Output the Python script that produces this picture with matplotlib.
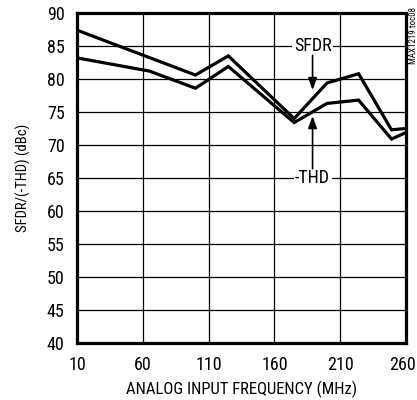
import matplotlib
matplotlib.use("Agg")
import matplotlib.pyplot as plt
from matplotlib import font_manager
from matplotlib.transforms import ScaledTranslation

names = {f.name for f in font_manager.fontManager.ttflist}
fam = 'Liberation Sans'
for cand in ['Roboto Condensed', 'Archivo Narrow', 'PT Sans Narrow', 'Liberation Sans Narrow']:
    if cand in names:
        fam = cand
        break
plt.rcParams['font.family'] = [fam, 'DejaVu Sans']
fs = 12 if fam != 'Liberation Sans' else 10.5

sfdr_freq = [10, 100, 125, 175, 200, 224, 249, 260]
sfdr_db = [87.4, 80.6, 83.5, 74.0, 79.4, 80.8, 72.3, 72.5]
thd_freq = [10, 65, 100, 125, 175, 200, 224, 249, 260]
thd_db = [83.2, 81.2, 78.6, 81.9, 73.4, 76.3, 76.8, 70.9, 71.9]
x_ticks = [10, 60, 110, 160, 210, 260]
y_ticks = [40, 45, 50, 55, 60, 65, 70, 75, 80, 85, 90]

fig = plt.figure(figsize=(4.17, 4.00), dpi=100)
ax = fig.add_axes([77/417, 1 - 343/400, 329/417, 330/400])
ax.plot(sfdr_freq, sfdr_db, color='black', lw=2.3, solid_joinstyle='miter', zorder=3)
ax.plot(thd_freq, thd_db, color='black', lw=2.3, solid_joinstyle='miter', zorder=3)
ax.set_xlim(10, 260)
ax.set_ylim(40, 90)
ax.set_xticks(x_ticks)
ax.set_yticks(y_ticks)
ax.grid(True, color='black', lw=0.9)
ax.tick_params(length=0, labelsize=fs + 1, pad=9)
for s in ax.spines.values():
    s.set_linewidth(2.3)
ax.set_xlabel('ANALOG INPUT FREQUENCY (MHz)', fontsize=fs, labelpad=5)
ax.set_ylabel('SFDR/(-THD) (dBc)', fontsize=fs - 1.5, labelpad=11)
fig.canvas.draw()
last = ax.get_xticklabels()[-1]
last.set_transform(last.get_transform() + ScaledTranslation(-4/100, 0, fig.dpi_scale_trans))

ax.text(189, 85, 'SFDR', ha='center', va='center', fontsize=fs + 1,
        bbox=dict(facecolor='white', edgecolor='none', pad=1), zorder=4)
ax.text(189, 65, '-THD', ha='center', va='center', fontsize=fs + 1,
        bbox=dict(facecolor='white', edgecolor='none', pad=1), zorder=4)
ax.annotate('', xy=(189, 77.9), xytext=(189, 84.0),
            arrowprops=dict(arrowstyle='-|>,head_length=0.6,head_width=0.22', color='black', lw=1.2, mutation_scale=12), zorder=4)
ax.annotate('', xy=(189, 74.8), xytext=(189, 66.0),
            arrowprops=dict(arrowstyle='-|>,head_length=0.6,head_width=0.22', color='black', lw=1.2, mutation_scale=12), zorder=4)
fig.text(413/417, 1 - 36/400, 'MAX1219 toc08', rotation=90, ha='center', va='center', fontsize=6.5)

fig.savefig('out.png', dpi=100)
